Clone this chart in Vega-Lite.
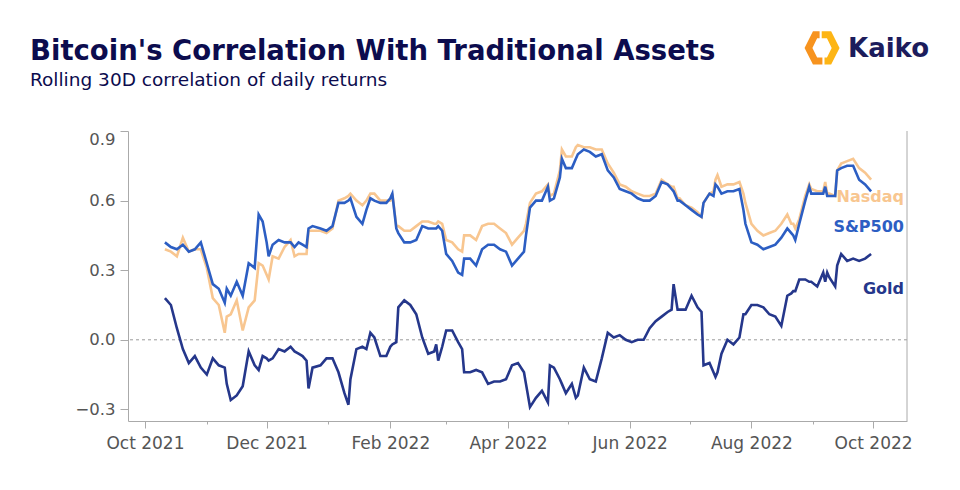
{
  "$schema": "https://vega.github.io/schema/vega-lite/v6.json",
  "width": 779,
  "height": 290,
  "autosize": {"type": "none"},
  "padding": {"left": 128, "top": 131, "right": 53, "bottom": 69},
  "background": "white",
  "title": {
    "text": "Bitcoin's Correlation With Traditional Assets",
    "subtitle": "Rolling 30D correlation of daily returns",
    "anchor": "start",
    "frame": "group",
    "dx": -98,
    "offset": -58,
    "font": "DejaVu Sans",
    "fontSize": 27.5,
    "fontWeight": "bold",
    "color": "#0c0c4e",
    "subtitleFont": "DejaVu Sans",
    "subtitleFontSize": 18.5,
    "subtitleColor": "#0c0c4e",
    "subtitlePadding": 5
  },
  "config": {
    "font": "DejaVu Sans",
    "view": {"stroke": null},
    "axisX": {"domainColor": "#aaaaaa", "tickColor": "#aaaaaa", "labelColor": "#555555", "labelFontSize": 17, "tickSize": 7, "labelPadding": 7, "grid": false, "domainWidth": 1, "labelFlush": false},
    "axisY": {"domainColor": "#aaaaaa", "tickColor": "#aaaaaa", "labelColor": "#555555", "labelFontSize": 16.5, "tickSize": 8, "labelPadding": 5, "grid": false, "labelFlush": true}
  },
  "data": {
    "values": [
      {"date": "2021-10-11", "sp500": 0.42, "nasdaq": 0.39, "gold": 0.18},
      {"date": "2021-10-14", "sp500": 0.40, "nasdaq": 0.38, "gold": 0.15},
      {"date": "2021-10-17", "sp500": 0.39, "nasdaq": 0.36, "gold": 0.05},
      {"date": "2021-10-20", "sp500": 0.41, "nasdaq": 0.44, "gold": -0.04},
      {"date": "2021-10-23", "sp500": 0.38, "nasdaq": 0.38, "gold": -0.10},
      {"date": "2021-10-26", "sp500": 0.39, "nasdaq": 0.39, "gold": -0.07},
      {"date": "2021-10-29", "sp500": 0.42, "nasdaq": 0.39, "gold": -0.12},
      {"date": "2021-11-01", "sp500": 0.33, "nasdaq": 0.31, "gold": -0.15},
      {"date": "2021-11-04", "sp500": 0.24, "nasdaq": 0.18, "gold": -0.08},
      {"date": "2021-11-07", "sp500": 0.22, "nasdaq": 0.15, "gold": -0.11},
      {"date": "2021-11-10", "sp500": 0.16, "nasdaq": 0.03, "gold": -0.12},
      {"date": "2021-11-11", "sp500": 0.22, "nasdaq": 0.10, "gold": -0.19},
      {"date": "2021-11-13", "sp500": 0.19, "nasdaq": 0.11, "gold": -0.26},
      {"date": "2021-11-16", "sp500": 0.25, "nasdaq": 0.17, "gold": -0.24},
      {"date": "2021-11-19", "sp500": 0.19, "nasdaq": 0.04, "gold": -0.20},
      {"date": "2021-11-22", "sp500": 0.33, "nasdaq": 0.14, "gold": -0.05},
      {"date": "2021-11-25", "sp500": 0.31, "nasdaq": 0.17, "gold": -0.11},
      {"date": "2021-11-27", "sp500": 0.54, "nasdaq": 0.33, "gold": -0.13},
      {"date": "2021-11-29", "sp500": 0.51, "nasdaq": 0.32, "gold": -0.07},
      {"date": "2021-12-01", "sp500": 0.42, "nasdaq": 0.28, "gold": -0.08},
      {"date": "2021-12-02", "sp500": 0.36, "nasdaq": 0.26, "gold": -0.09},
      {"date": "2021-12-04", "sp500": 0.41, "nasdaq": 0.36, "gold": -0.08},
      {"date": "2021-12-07", "sp500": 0.43, "nasdaq": 0.35, "gold": -0.04},
      {"date": "2021-12-10", "sp500": 0.42, "nasdaq": 0.40, "gold": -0.05},
      {"date": "2021-12-13", "sp500": 0.42, "nasdaq": 0.43, "gold": -0.03},
      {"date": "2021-12-15", "sp500": 0.40, "nasdaq": 0.36, "gold": -0.05},
      {"date": "2021-12-17", "sp500": 0.42, "nasdaq": 0.37, "gold": -0.06},
      {"date": "2021-12-19", "sp500": 0.41, "nasdaq": 0.37, "gold": -0.07},
      {"date": "2021-12-21", "sp500": 0.40, "nasdaq": 0.37, "gold": -0.09},
      {"date": "2021-12-22", "sp500": 0.48, "nasdaq": 0.47, "gold": -0.21},
      {"date": "2021-12-24", "sp500": 0.49, "nasdaq": 0.47, "gold": -0.12},
      {"date": "2021-12-28", "sp500": 0.48, "nasdaq": 0.47, "gold": -0.11},
      {"date": "2021-12-31", "sp500": 0.47, "nasdaq": 0.46, "gold": -0.08},
      {"date": "2022-01-03", "sp500": 0.49, "nasdaq": 0.48, "gold": -0.08},
      {"date": "2022-01-06", "sp500": 0.59, "nasdaq": 0.60, "gold": -0.14},
      {"date": "2022-01-09", "sp500": 0.59, "nasdaq": 0.61, "gold": -0.23},
      {"date": "2022-01-11", "sp500": 0.60, "nasdaq": 0.62, "gold": -0.28},
      {"date": "2022-01-12", "sp500": 0.61, "nasdaq": 0.63, "gold": -0.17},
      {"date": "2022-01-15", "sp500": 0.53, "nasdaq": 0.60, "gold": -0.04},
      {"date": "2022-01-18", "sp500": 0.50, "nasdaq": 0.58, "gold": -0.03},
      {"date": "2022-01-20", "sp500": 0.56, "nasdaq": 0.60, "gold": -0.04},
      {"date": "2022-01-22", "sp500": 0.61, "nasdaq": 0.63, "gold": 0.03},
      {"date": "2022-01-24", "sp500": 0.60, "nasdaq": 0.63, "gold": 0.01},
      {"date": "2022-01-27", "sp500": 0.59, "nasdaq": 0.60, "gold": -0.07},
      {"date": "2022-01-30", "sp500": 0.59, "nasdaq": 0.60, "gold": -0.07},
      {"date": "2022-02-01", "sp500": 0.61, "nasdaq": 0.60, "gold": -0.03},
      {"date": "2022-02-02", "sp500": 0.63, "nasdaq": 0.63, "gold": -0.02},
      {"date": "2022-02-04", "sp500": 0.48, "nasdaq": 0.49, "gold": -0.01},
      {"date": "2022-02-05", "sp500": 0.46, "nasdaq": 0.49, "gold": 0.14},
      {"date": "2022-02-08", "sp500": 0.42, "nasdaq": 0.47, "gold": 0.17},
      {"date": "2022-02-11", "sp500": 0.42, "nasdaq": 0.47, "gold": 0.15},
      {"date": "2022-02-14", "sp500": 0.43, "nasdaq": 0.49, "gold": 0.11},
      {"date": "2022-02-17", "sp500": 0.49, "nasdaq": 0.51, "gold": 0.01},
      {"date": "2022-02-20", "sp500": 0.48, "nasdaq": 0.51, "gold": -0.06},
      {"date": "2022-02-23", "sp500": 0.48, "nasdaq": 0.50, "gold": -0.05},
      {"date": "2022-02-24", "sp500": 0.48, "nasdaq": 0.50, "gold": -0.02},
      {"date": "2022-02-25", "sp500": 0.49, "nasdaq": 0.51, "gold": -0.09},
      {"date": "2022-02-27", "sp500": 0.47, "nasdaq": 0.50, "gold": -0.03},
      {"date": "2022-03-01", "sp500": 0.37, "nasdaq": 0.43, "gold": 0.04},
      {"date": "2022-03-04", "sp500": 0.34, "nasdaq": 0.42, "gold": 0.04},
      {"date": "2022-03-07", "sp500": 0.29, "nasdaq": 0.39, "gold": -0.01},
      {"date": "2022-03-09", "sp500": 0.28, "nasdaq": 0.38, "gold": -0.04},
      {"date": "2022-03-10", "sp500": 0.35, "nasdaq": 0.45, "gold": -0.14},
      {"date": "2022-03-13", "sp500": 0.35, "nasdaq": 0.45, "gold": -0.14},
      {"date": "2022-03-16", "sp500": 0.32, "nasdaq": 0.43, "gold": -0.13},
      {"date": "2022-03-19", "sp500": 0.39, "nasdaq": 0.49, "gold": -0.14},
      {"date": "2022-03-22", "sp500": 0.41, "nasdaq": 0.50, "gold": -0.19},
      {"date": "2022-03-25", "sp500": 0.41, "nasdaq": 0.50, "gold": -0.18},
      {"date": "2022-03-28", "sp500": 0.39, "nasdaq": 0.48, "gold": -0.18},
      {"date": "2022-03-31", "sp500": 0.38, "nasdaq": 0.46, "gold": -0.17},
      {"date": "2022-04-03", "sp500": 0.32, "nasdaq": 0.41, "gold": -0.11},
      {"date": "2022-04-06", "sp500": 0.35, "nasdaq": 0.44, "gold": -0.10},
      {"date": "2022-04-09", "sp500": 0.38, "nasdaq": 0.47, "gold": -0.14},
      {"date": "2022-04-10", "sp500": 0.45, "nasdaq": 0.50, "gold": -0.19},
      {"date": "2022-04-12", "sp500": 0.57, "nasdaq": 0.59, "gold": -0.29},
      {"date": "2022-04-15", "sp500": 0.60, "nasdaq": 0.63, "gold": -0.25},
      {"date": "2022-04-18", "sp500": 0.60, "nasdaq": 0.64, "gold": -0.22},
      {"date": "2022-04-21", "sp500": 0.66, "nasdaq": 0.67, "gold": -0.27},
      {"date": "2022-04-22", "sp500": 0.60, "nasdaq": 0.62, "gold": -0.11},
      {"date": "2022-04-24", "sp500": 0.61, "nasdaq": 0.63, "gold": -0.12},
      {"date": "2022-04-27", "sp500": 0.70, "nasdaq": 0.73, "gold": -0.17},
      {"date": "2022-04-28", "sp500": 0.78, "nasdaq": 0.82, "gold": -0.19},
      {"date": "2022-04-30", "sp500": 0.74, "nasdaq": 0.79, "gold": -0.23},
      {"date": "2022-05-03", "sp500": 0.74, "nasdaq": 0.79, "gold": -0.19},
      {"date": "2022-05-05", "sp500": 0.78, "nasdaq": 0.83, "gold": -0.25},
      {"date": "2022-05-06", "sp500": 0.80, "nasdaq": 0.84, "gold": -0.24},
      {"date": "2022-05-09", "sp500": 0.82, "nasdaq": 0.83, "gold": -0.12},
      {"date": "2022-05-12", "sp500": 0.81, "nasdaq": 0.83, "gold": -0.17},
      {"date": "2022-05-15", "sp500": 0.79, "nasdaq": 0.82, "gold": -0.18},
      {"date": "2022-05-18", "sp500": 0.80, "nasdaq": 0.82, "gold": -0.08},
      {"date": "2022-05-21", "sp500": 0.73, "nasdaq": 0.76, "gold": 0.03},
      {"date": "2022-05-24", "sp500": 0.70, "nasdaq": 0.72, "gold": 0.01},
      {"date": "2022-05-27", "sp500": 0.65, "nasdaq": 0.67, "gold": 0.02},
      {"date": "2022-05-30", "sp500": 0.64, "nasdaq": 0.66, "gold": 0.00},
      {"date": "2022-06-02", "sp500": 0.63, "nasdaq": 0.64, "gold": -0.01},
      {"date": "2022-06-05", "sp500": 0.61, "nasdaq": 0.63, "gold": 0.00},
      {"date": "2022-06-08", "sp500": 0.60, "nasdaq": 0.62, "gold": 0.00},
      {"date": "2022-06-11", "sp500": 0.60, "nasdaq": 0.62, "gold": 0.05},
      {"date": "2022-06-14", "sp500": 0.62, "nasdaq": 0.63, "gold": 0.08},
      {"date": "2022-06-17", "sp500": 0.68, "nasdaq": 0.69, "gold": 0.10},
      {"date": "2022-06-20", "sp500": 0.67, "nasdaq": 0.67, "gold": 0.12},
      {"date": "2022-06-22", "sp500": 0.65, "nasdaq": 0.66, "gold": 0.13},
      {"date": "2022-06-23", "sp500": 0.64, "nasdaq": 0.66, "gold": 0.24},
      {"date": "2022-06-25", "sp500": 0.60, "nasdaq": 0.61, "gold": 0.13},
      {"date": "2022-06-26", "sp500": 0.60, "nasdaq": 0.61, "gold": 0.13},
      {"date": "2022-06-29", "sp500": 0.58, "nasdaq": 0.58, "gold": 0.13},
      {"date": "2022-07-02", "sp500": 0.56, "nasdaq": 0.57, "gold": 0.19},
      {"date": "2022-07-05", "sp500": 0.54, "nasdaq": 0.55, "gold": 0.14},
      {"date": "2022-07-07", "sp500": 0.53, "nasdaq": 0.53, "gold": 0.12},
      {"date": "2022-07-08", "sp500": 0.59, "nasdaq": 0.59, "gold": -0.11},
      {"date": "2022-07-11", "sp500": 0.63, "nasdaq": 0.63, "gold": -0.10},
      {"date": "2022-07-13", "sp500": 0.62, "nasdaq": 0.64, "gold": -0.14},
      {"date": "2022-07-14", "sp500": 0.67, "nasdaq": 0.69, "gold": -0.16},
      {"date": "2022-07-15", "sp500": 0.66, "nasdaq": 0.71, "gold": -0.14},
      {"date": "2022-07-17", "sp500": 0.63, "nasdaq": 0.66, "gold": -0.06},
      {"date": "2022-07-20", "sp500": 0.64, "nasdaq": 0.67, "gold": 0.00},
      {"date": "2022-07-23", "sp500": 0.64, "nasdaq": 0.67, "gold": -0.02},
      {"date": "2022-07-26", "sp500": 0.65, "nasdaq": 0.68, "gold": 0.01},
      {"date": "2022-07-28", "sp500": 0.56, "nasdaq": 0.63, "gold": 0.11},
      {"date": "2022-07-29", "sp500": 0.50, "nasdaq": 0.59, "gold": 0.11},
      {"date": "2022-08-01", "sp500": 0.42, "nasdaq": 0.50, "gold": 0.15},
      {"date": "2022-08-04", "sp500": 0.41, "nasdaq": 0.47, "gold": 0.15},
      {"date": "2022-08-07", "sp500": 0.39, "nasdaq": 0.45, "gold": 0.14},
      {"date": "2022-08-10", "sp500": 0.40, "nasdaq": 0.46, "gold": 0.11},
      {"date": "2022-08-13", "sp500": 0.41, "nasdaq": 0.47, "gold": 0.10},
      {"date": "2022-08-16", "sp500": 0.44, "nasdaq": 0.50, "gold": 0.06},
      {"date": "2022-08-19", "sp500": 0.48, "nasdaq": 0.54, "gold": 0.19},
      {"date": "2022-08-21", "sp500": 0.46, "nasdaq": 0.50, "gold": 0.20},
      {"date": "2022-08-22", "sp500": 0.45, "nasdaq": 0.50, "gold": 0.21},
      {"date": "2022-08-23", "sp500": 0.43, "nasdaq": 0.48, "gold": 0.21},
      {"date": "2022-08-25", "sp500": 0.50, "nasdaq": 0.52, "gold": 0.26},
      {"date": "2022-08-28", "sp500": 0.60, "nasdaq": 0.62, "gold": 0.26},
      {"date": "2022-08-30", "sp500": 0.66, "nasdaq": 0.67, "gold": 0.25},
      {"date": "2022-08-31", "sp500": 0.63, "nasdaq": 0.65, "gold": 0.25},
      {"date": "2022-09-03", "sp500": 0.63, "nasdaq": 0.64, "gold": 0.23},
      {"date": "2022-09-06", "sp500": 0.63, "nasdaq": 0.64, "gold": 0.29},
      {"date": "2022-09-07", "sp500": 0.66, "nasdaq": 0.68, "gold": 0.25},
      {"date": "2022-09-08", "sp500": 0.62, "nasdaq": 0.63, "gold": 0.29},
      {"date": "2022-09-09", "sp500": 0.62, "nasdaq": 0.63, "gold": 0.27},
      {"date": "2022-09-12", "sp500": 0.62, "nasdaq": 0.62, "gold": 0.23},
      {"date": "2022-09-13", "sp500": 0.73, "nasdaq": 0.73, "gold": 0.32},
      {"date": "2022-09-15", "sp500": 0.74, "nasdaq": 0.76, "gold": 0.37},
      {"date": "2022-09-18", "sp500": 0.75, "nasdaq": 0.77, "gold": 0.34},
      {"date": "2022-09-21", "sp500": 0.75, "nasdaq": 0.78, "gold": 0.35},
      {"date": "2022-09-24", "sp500": 0.69, "nasdaq": 0.74, "gold": 0.34},
      {"date": "2022-09-27", "sp500": 0.67, "nasdaq": 0.72, "gold": 0.35},
      {"date": "2022-09-30", "sp500": 0.64, "nasdaq": 0.69, "gold": 0.37}
    ]
  },
  "layer": [
    {
      "data": {"values": [{}]},
      "mark": {"type": "rule", "color": "#9a9a9a", "strokeDash": [3, 3], "strokeWidth": 1},
      "encoding": {
        "y": {"datum": 0, "type": "quantitative", "title": null, "scale": {"domain": [-0.35, 0.9]}, "axis": {"values": [-0.3, 0, 0.3, 0.6, 0.9], "format": ".1f"}}
      }
    },
    {
      "data": {"values": [{}]},
      "mark": {"type": "rule", "color": "#aaaaaa", "strokeWidth": 1},
      "encoding": {
        "x": {"datum": {"year": 2022, "month": 10, "date": 18}, "type": "temporal", "title": null,
              "scale": {"domain": [{"year": 2021, "month": 9, "date": 22, "hours": 12}, {"year": 2022, "month": 10, "date": 18}]},
              "axis": {"orient": "bottom", "values": [{"year": 2021, "month": 11, "date": 1}, {"year": 2022, "month": 1, "date": 1}, {"year": 2022, "month": 3, "date": 1}, {"year": 2022, "month": 5, "date": 1}, {"year": 2022, "month": 7, "date": 1}, {"year": 2022, "month": 9, "date": 1}], "labels": false, "domain": false, "tickSize": 3, "grid": false}}
      }
    },
    {
      "mark": {"type": "line", "color": "#F8C690", "strokeWidth": 2.6},
      "encoding": {
        "x": {"field": "date", "type": "temporal", "title": null,
              "scale": {"domain": [{"year": 2021, "month": 9, "date": 22, "hours": 12}, {"year": 2022, "month": 10, "date": 18}]},
              "axis": {"orient": "bottom", "values": [{"year": 2021, "month": 10, "date": 1}, {"year": 2021, "month": 12, "date": 1}, {"year": 2022, "month": 2, "date": 1}, {"year": 2022, "month": 4, "date": 1}, {"year": 2022, "month": 6, "date": 1}, {"year": 2022, "month": 8, "date": 1}, {"year": 2022, "month": 10, "date": 1}], "format": "%b %Y", "labelOverlap": false}},
        "y": {"field": "nasdaq", "type": "quantitative", "title": null, "scale": {"domain": [-0.35, 0.9]}, "axis": {"values": [-0.3, 0, 0.3, 0.6, 0.9], "format": ".1f"}}
      }
    },
    {
      "mark": {"type": "line", "color": "#2C5EC3", "strokeWidth": 2.6},
      "encoding": {
        "x": {"field": "date", "type": "temporal", "title": null,
              "scale": {"domain": [{"year": 2021, "month": 9, "date": 22, "hours": 12}, {"year": 2022, "month": 10, "date": 18}]}, "axis": null},
        "y": {"field": "sp500", "type": "quantitative", "title": null, "scale": {"domain": [-0.35, 0.9]}, "axis": {"values": [-0.3, 0, 0.3, 0.6, 0.9], "format": ".1f"}}
      }
    },
    {
      "mark": {"type": "line", "color": "#25378B", "strokeWidth": 2.6},
      "encoding": {
        "x": {"field": "date", "type": "temporal", "title": null,
              "scale": {"domain": [{"year": 2021, "month": 9, "date": 22, "hours": 12}, {"year": 2022, "month": 10, "date": 18}]}, "axis": null},
        "y": {"field": "gold", "type": "quantitative", "title": null, "scale": {"domain": [-0.35, 0.9]}, "axis": {"values": [-0.3, 0, 0.3, 0.6, 0.9], "format": ".1f"}}
      }
    },
    {
      "data": {"values": [{}]},
      "mark": {"type": "text", "text": "Nasdaq", "align": "right", "baseline": "alphabetic", "fontSize": 16, "fontWeight": "bold", "color": "#F8C690"},
      "encoding": {
        "x": {"datum": {"year": 2022, "month": 10, "date": 16, "hours": 12}, "type": "temporal", "title": null,
              "scale": {"domain": [{"year": 2021, "month": 9, "date": 22, "hours": 12}, {"year": 2022, "month": 10, "date": 18}]}, "axis": null},
        "y": {"datum": 0.596, "type": "quantitative", "title": null, "scale": {"domain": [-0.35, 0.9]}, "axis": {"values": [-0.3, 0, 0.3, 0.6, 0.9], "format": ".1f"}}
      }
    },
    {
      "data": {"values": [{}]},
      "mark": {"type": "text", "text": "S&P500", "align": "right", "baseline": "alphabetic", "fontSize": 16, "fontWeight": "bold", "color": "#2C5EC3"},
      "encoding": {
        "x": {"datum": {"year": 2022, "month": 10, "date": 16, "hours": 12}, "type": "temporal", "title": null,
              "scale": {"domain": [{"year": 2021, "month": 9, "date": 22, "hours": 12}, {"year": 2022, "month": 10, "date": 18}]}, "axis": null},
        "y": {"datum": 0.466, "type": "quantitative", "title": null, "scale": {"domain": [-0.35, 0.9]}, "axis": {"values": [-0.3, 0, 0.3, 0.6, 0.9], "format": ".1f"}}
      }
    },
    {
      "data": {"values": [{}]},
      "mark": {"type": "text", "text": "Gold", "align": "right", "baseline": "alphabetic", "fontSize": 16, "fontWeight": "bold", "color": "#25378B"},
      "encoding": {
        "x": {"datum": {"year": 2022, "month": 10, "date": 16, "hours": 12}, "type": "temporal", "title": null,
              "scale": {"domain": [{"year": 2021, "month": 9, "date": 22, "hours": 12}, {"year": 2022, "month": 10, "date": 18}]}, "axis": null},
        "y": {"datum": 0.196, "type": "quantitative", "title": null, "scale": {"domain": [-0.35, 0.9]}, "axis": {"values": [-0.3, 0, 0.3, 0.6, 0.9], "format": ".1f"}}
      }
    },
    {
      "data": {"values": [{}]},
      "mark": {"type": "point", "shape": "M -0.14 -0.95 L -0.52 -0.95 L -1 0 L -0.52 0.95 L 0.02 0.95 L 0.02 0.55 L -0.28 0.55 L -0.55 0 L -0.28 -0.55 L -0.14 -0.55 Z", "size": 1225, "filled": true, "opacity": 1, "color": "#F7931E"},
      "encoding": {
        "x": {"datum": {"year": 2022, "month": 9, "date": 5, "hours": 10}, "type": "temporal", "title": null,
              "scale": {"domain": [{"year": 2021, "month": 9, "date": 22, "hours": 12}, {"year": 2022, "month": 10, "date": 18}]}, "axis": null},
        "y": {"datum": 1.258, "type": "quantitative", "title": null, "scale": {"domain": [-0.35, 0.9]}, "axis": {"values": [-0.3, 0, 0.3, 0.6, 0.9], "format": ".1f"}}
      }
    },
    {
      "data": {"values": [{}]},
      "mark": {"type": "point", "shape": "M 0.14 0.95 L 0.52 0.95 L 1 0 L 0.52 -0.95 L -0.02 -0.95 L -0.02 -0.55 L 0.28 -0.55 L 0.55 0 L 0.28 0.55 L 0.14 0.55 Z", "size": 1225, "filled": true, "opacity": 1, "color": "#FDB515"},
      "encoding": {
        "x": {"datum": {"year": 2022, "month": 9, "date": 5, "hours": 10}, "type": "temporal", "title": null,
              "scale": {"domain": [{"year": 2021, "month": 9, "date": 22, "hours": 12}, {"year": 2022, "month": 10, "date": 18}]}, "axis": null},
        "y": {"datum": 1.258, "type": "quantitative", "title": null, "scale": {"domain": [-0.35, 0.9]}, "axis": {"values": [-0.3, 0, 0.3, 0.6, 0.9], "format": ".1f"}}
      }
    },
    {
      "data": {"values": [{}]},
      "mark": {"type": "text", "text": "Kaiko", "align": "left", "baseline": "alphabetic", "fontSize": 26, "fontWeight": "bold", "color": "#1c1c5c"},
      "encoding": {
        "x": {"datum": {"year": 2022, "month": 9, "date": 18, "hours": 10}, "type": "temporal", "title": null,
              "scale": {"domain": [{"year": 2021, "month": 9, "date": 22, "hours": 12}, {"year": 2022, "month": 10, "date": 18}]}, "axis": null},
        "y": {"datum": 1.219, "type": "quantitative", "title": null, "scale": {"domain": [-0.35, 0.9]}, "axis": {"values": [-0.3, 0, 0.3, 0.6, 0.9], "format": ".1f"}}
      }
    }
  ],
  "resolve": {"axis": {"x": "independent"}}
}
